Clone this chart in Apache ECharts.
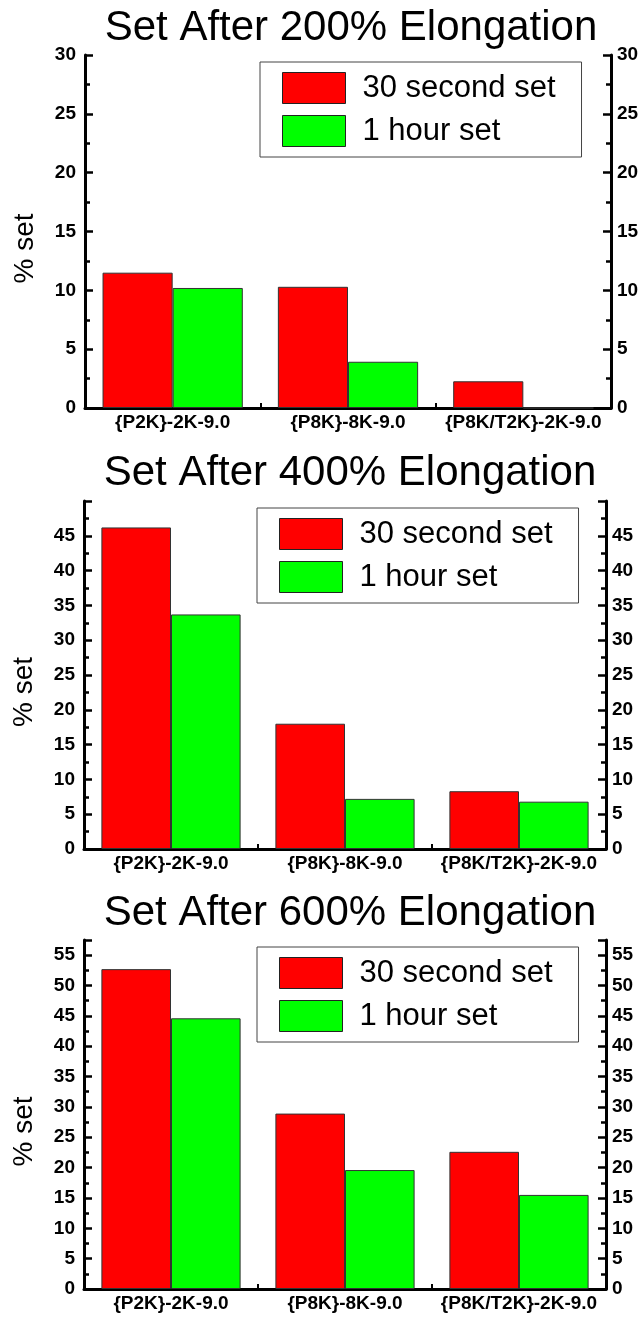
<!DOCTYPE html>
<html>
<head>
<meta charset="utf-8">
<script src="https://cdn.jsdelivr.net/npm/echarts@6/dist/echarts.min.js"></script>
<style>
html,body{margin:0;padding:0;background:#fff;}
#c{width:642px;height:1319px;}
</style>
</head>
<body>
<div id="c"></div>
<script>
// ---- data ----
var categories = ['{P2K}-2K-9.0', '{P8K}-8K-9.0', '{P8K/T2K}-2K-9.0'];
var seriesNames = ['30 second set', '1 hour set'];
var titles = ['Set After 200% Elongation', 'Set After 400% Elongation', 'Set After 600% Elongation'];
var sec30_200 = [11.5, 10.3, 2.27];
var hour1_200 = [10.2, 3.93, 0];
var sec30_400 = [46.2, 18.0, 8.3];
var hour1_400 = [33.7, 7.2, 6.8];
var sec30_600 = [52.7, 28.9, 22.6];
var hour1_600 = [44.6, 19.6, 15.5];
var yMax = [30, 50, 57.5];
var yInterval = 5;

var FONT = '"Liberation Sans", Arial, sans-serif';
var panels = [
  {grid:{left:85, width:526, top:55, height:353}, title:{left:346, top:2}, legend:{left:260, top:62},
   data:[sec30_200, hour1_200]},
  {grid:{left:84, width:522, top:501, height:348}, title:{left:345, top:447}, legend:{left:257, top:508},
   data:[sec30_400, hour1_400]},
  {grid:{left:84, width:522, top:940, height:349}, title:{left:345, top:887}, legend:{left:257, top:947},
   data:[sec30_600, hour1_600]}
];
var colors = ['#ff0000', '#00ff00'];

var option = {
  animation:false,
  backgroundColor:'#fff',
  title:[], legend:[], grid:[], xAxis:[], yAxis:[], series:[]
};

panels.forEach(function(p, i){
  option.grid.push(p.grid);
  option.title.push({
    text:titles[i], left:p.title.left, top:p.title.top, textAlign:'center',
    textStyle:{fontFamily:FONT, fontSize:42, fontWeight:'normal', color:'#000'}
  });
  option.legend.push({
    orient:'vertical', left:p.legend.left, top:p.legend.top,
    itemWidth:63, itemHeight:31, itemGap:11,
    padding:[10, 26, 10, 22],
    borderColor:'#444', borderWidth:1,
    icon:'rect',
    itemStyle:{borderColor:'#222', borderWidth:1},
    textStyle:{fontFamily:FONT, fontSize:31, color:'#000', padding:[0,0,0,12]},
    data:seriesNames.map(function(n){return {name:n};}),
    selectedMode:false
  });
  option.xAxis.push({
    type:'category', gridIndex:i, data:categories,
    axisLine:{lineStyle:{color:'#000', width:3}},
    axisTick:{show:true, inside:true, length:5, lineStyle:{color:'#000', width:2}},
    axisLabel:{fontFamily:FONT, fontSize:19, fontWeight:'bold', color:'#000', margin:5, interval:0}
  });
  var yCommon = {
    type:'value', gridIndex:i, min:0, max:yMax[i], interval:yInterval,
    axisLine:{show:true, lineStyle:{color:'#000', width:3}},
    axisTick:{show:true, inside:true, length:8, lineStyle:{color:'#000', width:2.5}},
    minorTick:{show:true, splitNumber:2, length:5, lineStyle:{color:'#000', width:2.5}},
    splitLine:{show:false},
    axisLabel:{fontFamily:FONT, fontSize:19, fontWeight:'bold', color:'#000', showMaxLabel: i===0}
  };
  var yl = JSON.parse(JSON.stringify(yCommon));
  yl.position = 'left';
  yl.axisLabel.margin = 9;
  yl.name = '% set';
  yl.nameLocation = 'middle';
  yl.nameGap = 46;
  yl.nameRotate = 90;
  yl.nameTextStyle = {fontFamily:FONT, fontSize:28, color:'#000', padding:[0, 34, 0, 0]};
  var yr = JSON.parse(JSON.stringify(yCommon));
  yr.position = 'right';
  yr.axisLabel.margin = 6;
  option.yAxis.push(yl);
  option.yAxis.push(yr);
  p.data.forEach(function(d, k){
    option.series.push({
      type:'bar', name:seriesNames[k], xAxisIndex:i, yAxisIndex:i*2, data:d,
      barGap:'0%', barCategoryGap:'20%',
      itemStyle:{color:colors[k], borderColor:'#333', borderWidth:1}
    });
  });
});

var chart = echarts.init(document.getElementById('c'), null, {renderer:'canvas'});
chart.setOption(option);
</script>
</body>
</html>
